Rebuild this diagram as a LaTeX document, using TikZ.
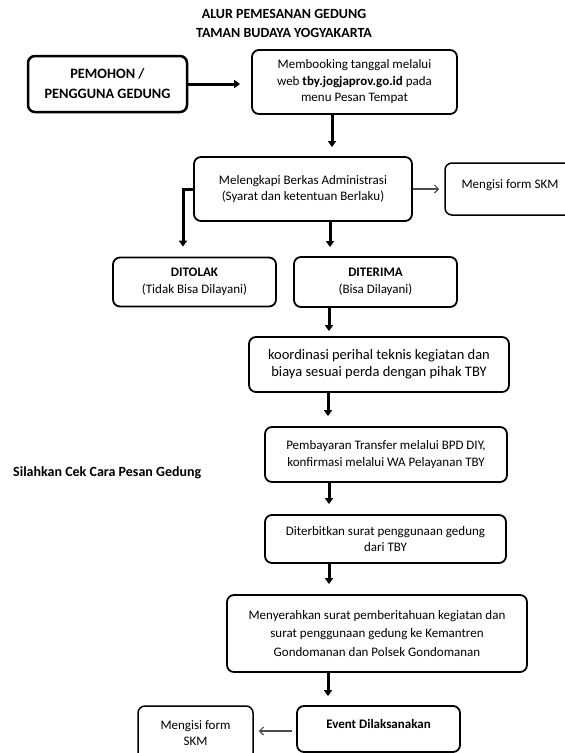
\documentclass[tikz,border=0pt]{standalone}
\usepackage{fontspec}
\setmainfont{Carlito}
\usetikzlibrary{arrows.meta}

\begin{document}
\begin{tikzpicture}[x=1pt, y=-1pt,
    box/.style={rectangle, draw=black, line width=1.8pt, rounded corners=7pt, inner sep=0pt, align=center, font=\fontsize{13}{16.5}\selectfont},
    skmbox/.style={box, line width=1.5pt},
    arr/.style={-{Triangle[width=8pt,length=6pt]}, line width=3pt},
    thinarr/.style={-{Straight Barb[width=8pt,length=4pt]}, line width=1.1pt, color=black!70}
]
\useasboundingbox (0,0) rectangle (565,753);

\node[align=center, font=\bfseries\fontsize{14}{19}\selectfont] (title) at (284,23) {ALUR PEMESANAN GEDUNG\\TAMAN BUDAYA YOGYAKARTA};

\node[box, line width=2.5pt, minimum width=159pt, minimum height=56pt, font=\bfseries\fontsize{14.3}{20}\selectfont] (pemohon) at (107.5,84) {PEMOHON /\\PENGGUNA GEDUNG};
\node[box, minimum width=205pt, minimum height=64pt] (booking) at (354.5,82) {Membooking tanggal melalui\\web \textbf{tby.jogjaprov.go.id} pada\\menu Pesan Tempat};
\node[box, minimum width=218pt, minimum height=64pt] (berkas) at (303,189) {Melengkapi Berkas Administrasi\\(Syarat dan ketentuan Berlaku)};
\node[skmbox, minimum width=130pt, minimum height=52pt] (skmA) at (510,189) {Mengisi form SKM\rule[-9pt]{0pt}{0pt}};
\node[box, minimum width=163pt, minimum height=49pt] (tolak) at (194.5,282) {\textbf{DITOLAK}\\(Tidak Bisa Dilayani)};
\node[box, minimum width=163pt, minimum height=50pt] (terima) at (375.5,282) {\textbf{DITERIMA}\\(Bisa Dilayani)};
\node[box, minimum width=260pt, minimum height=55pt, font=\fontsize{14.5}{17}\selectfont] (koord) at (379,364.5) {koordinasi perihal teknis kegiatan dan\\biaya sesuai perda dengan pihak TBY};
\node[box, minimum width=242pt, minimum height=55pt] (bayar) at (386,454.5) {Pembayaran Transfer melalui BPD DIY,\\konfirmasi melalui WA Pelayanan TBY};
\node[anchor=west, inner sep=0pt, font=\bfseries\fontsize{14}{17}\selectfont] (cek) at (13,473) {Silahkan Cek Cara Pesan Gedung};
\node[box, minimum width=241pt, minimum height=48pt] (terbit) at (385.5,539) {Diterbitkan surat penggunaan gedung\\dari TBY};
\node[box, minimum width=300pt, minimum height=77pt, font=\fontsize{13}{18.5}\selectfont] (serah) at (377,633.5) {Menyerahkan surat pemberitahuan kegiatan dan\\surat penggunaan gedung ke Kemantren\\Gondomanan dan Polsek Gondomanan};
\node[box, minimum width=163pt, minimum height=46pt, font=\bfseries\fontsize{13}{16}\selectfont] (event) at (378.5,729) {Event Dilaksanakan\rule[-10pt]{0pt}{0pt}};
\node[skmbox, minimum width=115pt, minimum height=54pt] (skmB) at (195.5,733) {Mengisi form\\SKM};

\draw[arr, shorten >=11pt] (pemohon.east) -- (pemohon.east -| booking.west);
\draw[arr, shorten >=9pt] ([xshift=-22.5pt]booking.south) -- ([xshift=-22.5pt]booking.south |- berkas.north);
\draw[thinarr, shorten >=5pt] (berkas.east) -- (skmA.west);
\draw[arr, shorten >=10pt] (berkas.west) -| ([xshift=-11.5pt]tolak.north);
\draw[arr, shorten >=9pt] ([xshift=27pt]berkas.south) -- ([xshift=27pt]berkas.south |- terima.north);
\draw[arr, shorten >=5pt] ([xshift=-46.5pt]terima.south) -- ([xshift=-46.5pt]terima.south |- koord.north);
\draw[arr, shorten >=10pt] ([xshift=-51pt]koord.south) -- ([xshift=-51pt]koord.south |- bayar.north);
\draw[arr, shorten >=10pt] ([xshift=-57pt]bayar.south) -- ([xshift=-57pt]bayar.south |- terbit.north);
\draw[arr, shorten >=10pt] ([xshift=-56.5pt]terbit.south) -- ([xshift=-56.5pt]terbit.south |- serah.north);
\draw[arr, shorten >=9pt] ([xshift=-49pt]serah.south) -- ([xshift=-49pt]serah.south |- event.north);
\draw[thinarr, shorten <=4pt, shorten >=5pt] ([yshift=-2pt]event.west) -- ([yshift=-2pt]event.west -| skmB.east);
\end{tikzpicture}
\end{document}
